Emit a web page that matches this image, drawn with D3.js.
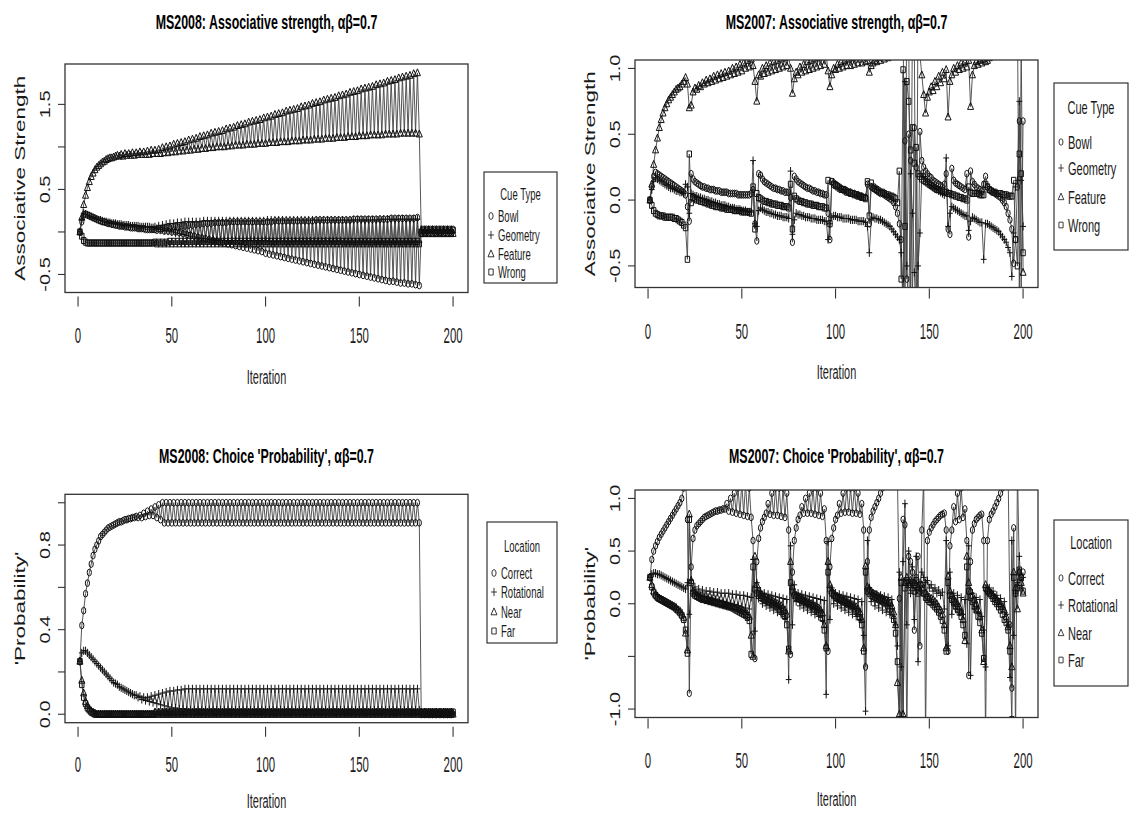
<!DOCTYPE html>
<html>
<head>
<meta charset="utf-8">
<script src="https://cdn.jsdelivr.net/npm/d3@7"></script>
<style>
  body { margin: 0; background: #fff; }
  svg { display: block; }
</style>
</head>
<body>
<script>
// ---------- data ----------
let cueNames = ['Bowl', 'Geometry', 'Feature', 'Wrong']
let locNames = ['Correct', 'Rotational', 'Near', 'Far']
let xTicks = [0, 50, 100, 150, 200]

// MS2008 associative strength: iterations 1-40, then odd/even alternation 41-182, then 183-200
let tlFeatureHead = [0.00,0.17,0.32,0.43,0.52,0.59,0.65,0.69,0.73,0.76,
  0.78,0.80,0.82,0.83,0.85,0.86,0.87,0.87,0.88,0.89,
  0.90,0.89,0.91,0.89,0.92,0.90,0.92,0.90,0.93,0.90,
  0.93,0.91,0.94,0.91,0.94,0.91,0.95,0.91,0.96,0.92]
let tlFeatureHi = [0.96,0.97,0.99,1.00,1.01,1.03,1.04,1.05,1.06,1.08,
  1.09,1.10,1.12,1.13,1.14,1.16,1.17,1.18,1.19,1.21,
  1.22,1.23,1.25,1.26,1.27,1.29,1.30,1.31,1.32,1.34,
  1.35,1.36,1.38,1.39,1.40,1.42,1.43,1.44,1.45,1.47,
  1.48,1.49,1.51,1.52,1.53,1.55,1.56,1.57,1.58,1.60,
  1.61,1.62,1.64,1.65,1.66,1.68,1.69,1.70,1.71,1.73,
  1.74,1.75,1.77,1.78,1.79,1.81,1.82,1.83,1.84,1.86,
  1.87]
let tlFeatureLo = [0.92,0.92,0.93,0.93,0.94,0.94,0.95,0.95,0.96,0.96,
  0.97,0.97,0.98,0.98,0.99,0.99,1.00,1.00,1.00,1.01,
  1.01,1.02,1.02,1.02,1.03,1.03,1.03,1.04,1.04,1.04,
  1.05,1.05,1.05,1.06,1.06,1.06,1.07,1.07,1.07,1.08,
  1.08,1.08,1.09,1.09,1.09,1.10,1.10,1.10,1.11,1.11,
  1.11,1.12,1.12,1.12,1.13,1.13,1.13,1.14,1.14,1.14,
  1.14,1.15,1.15,1.15,1.15,1.16,1.16,1.16,1.16,1.16,
  1.15]
let tlFeatureTail = [0.02,-0.02,0.02,-0.02,0.02,-0.02,0.02,-0.02,0.02,-0.02,0.02,-0.02,0.02,-0.02,0.02,-0.02,0.02,-0.02]

let tlBowlHead = [0.00,0.12,0.20,0.21,0.20,0.19,0.18,0.17,0.16,0.15,
  0.14,0.13,0.12,0.12,0.11,0.10,0.10,0.09,0.09,0.08,
  0.08,0.07,0.07,0.07,0.06,0.06,0.06,0.05,0.05,0.05,
  0.05,0.04,0.04,0.04,0.04,0.03,0.03,0.03,0.03,0.03]
let tlBowlHi = [0.03,0.04,0.04,0.05,0.05,0.06,0.06,0.07,0.07,0.08,
  0.08,0.09,0.09,0.10,0.10,0.10,0.11,0.11,0.11,0.11,
  0.12,0.12,0.12,0.12,0.12,0.12,0.12,0.12,0.12,0.12,
  0.12,0.12,0.13,0.13,0.13,0.13,0.13,0.13,0.13,0.13,
  0.13,0.13,0.13,0.14,0.14,0.14,0.14,0.14,0.14,0.14,
  0.14,0.14,0.14,0.15,0.15,0.15,0.15,0.15,0.15,0.15,
  0.15,0.15,0.15,0.16,0.16,0.16,0.16,0.16,0.16,0.16,
  0.17]
let tlBowlLo = [0.02,0.02,0.01,0.01,0.00,0.00,-0.01,-0.02,-0.03,-0.04,
  -0.05,-0.06,-0.07,-0.08,-0.09,-0.10,-0.11,-0.12,-0.13,-0.14,
  -0.15,-0.16,-0.17,-0.18,-0.19,-0.20,-0.21,-0.22,-0.23,-0.25,
  -0.26,-0.27,-0.28,-0.29,-0.30,-0.31,-0.32,-0.33,-0.34,-0.35,
  -0.36,-0.37,-0.38,-0.39,-0.40,-0.41,-0.42,-0.43,-0.44,-0.45,
  -0.46,-0.47,-0.48,-0.49,-0.50,-0.51,-0.52,-0.53,-0.54,-0.55,
  -0.56,-0.57,-0.58,-0.58,-0.59,-0.60,-0.60,-0.61,-0.61,-0.62,
  -0.63]
let tlBowlTail = [-0.01,0.03,-0.01,0.03,-0.01,0.03,-0.01,0.03,-0.01,0.03,-0.01,0.03,-0.01,0.03,-0.01,0.03,-0.01,0.03]

let tlGeometryHead = [0.00,0.15,0.22,0.21,0.20,0.19,0.18,0.17,0.16,0.15,
  0.14,0.14,0.13,0.12,0.12,0.11,0.11,0.10,0.10,0.10,
  0.09,0.09,0.09,0.08,0.08,0.08,0.08,0.07,0.07,0.07,
  0.07,0.07,0.06,0.06,0.06,0.06,0.06,0.06,0.05,0.05]
let tlGeometryHi = [0.06,0.07,0.08,0.09,0.10,0.10,0.11,0.11,0.12,0.12,
  0.12,0.12,0.12,0.13,0.13,0.13,0.13,0.13,0.13,0.13,
  0.13,0.13,0.13,0.13,0.13,0.13,0.13,0.13,0.13,0.13,
  0.14,0.14,0.14,0.14,0.14,0.14,0.14,0.14,0.14,0.14,
  0.14,0.14,0.14,0.14,0.14,0.14,0.14,0.14,0.14,0.14,
  0.14,0.14,0.14,0.14,0.14,0.14,0.14,0.14,0.14,0.14,
  0.15,0.15,0.15,0.15,0.15,0.15,0.15,0.15,0.15,0.15,
  0.15]
let tlGeometryLo = [0.04,0.03,0.02,0.01,0.00,-0.01,-0.02,-0.03,-0.04,-0.05,
  -0.06,-0.07,-0.08,-0.08,-0.09,-0.09,-0.10,-0.10,-0.10,-0.10,
  -0.10,-0.10,-0.10,-0.10,-0.10,-0.10,-0.10,-0.10,-0.10,-0.10,
  -0.11,-0.11,-0.11,-0.11,-0.11,-0.11,-0.11,-0.11,-0.11,-0.11,
  -0.11,-0.11,-0.11,-0.11,-0.11,-0.11,-0.11,-0.11,-0.11,-0.11,
  -0.12,-0.12,-0.12,-0.12,-0.12,-0.12,-0.12,-0.12,-0.12,-0.12,
  -0.12,-0.12,-0.12,-0.12,-0.12,-0.12,-0.12,-0.12,-0.12,-0.12,
  -0.12]
let tlGeometryTail = [0.03,-0.01,0.03,-0.01,0.03,-0.01,0.03,-0.01,0.03,-0.01,0.03,-0.01,0.03,-0.01,0.03,-0.01,0.03,-0.01]

let tlWrongHead = [0.00,-0.05,-0.10,-0.12,-0.13,-0.13,-0.13,-0.13,-0.13,-0.13,
  -0.13,-0.13,-0.13,-0.13,-0.13,-0.13,-0.13,-0.13,-0.13,-0.13,
  -0.13,-0.13,-0.13,-0.13,-0.13,-0.13,-0.13,-0.13,-0.13,-0.13,
  -0.13,-0.13,-0.13,-0.13,-0.13,-0.13,-0.13,-0.13,-0.13,-0.13]
let tlWrongHi = [-0.12,-0.12,-0.12,-0.12,-0.11,-0.11,-0.11,-0.11,-0.11,-0.11,
  -0.11,-0.11,-0.11,-0.11,-0.11,-0.11,-0.11,-0.11,-0.11,-0.11,
  -0.11,-0.11,-0.11,-0.11,-0.11,-0.11,-0.11,-0.11,-0.11,-0.11,
  -0.11,-0.11,-0.11,-0.11,-0.11,-0.11,-0.11,-0.11,-0.11,-0.11,
  -0.11,-0.11,-0.11,-0.11,-0.11,-0.11,-0.11,-0.11,-0.11,-0.11,
  -0.11,-0.11,-0.11,-0.11,-0.11,-0.11,-0.11,-0.11,-0.11,-0.11,
  -0.11,-0.11,-0.11,-0.11,-0.11,-0.11,-0.11,-0.11,-0.11,-0.11,
  -0.11]
let tlWrongLo = [-0.14,-0.14,-0.14,-0.14,-0.14,-0.14,-0.14,-0.14,-0.14,-0.14,
  -0.14,-0.14,-0.14,-0.14,-0.14,-0.14,-0.14,-0.14,-0.14,-0.14,
  -0.14,-0.14,-0.14,-0.14,-0.14,-0.14,-0.14,-0.14,-0.14,-0.14,
  -0.14,-0.14,-0.14,-0.14,-0.14,-0.14,-0.14,-0.14,-0.14,-0.14,
  -0.14,-0.14,-0.14,-0.14,-0.14,-0.14,-0.14,-0.14,-0.14,-0.14,
  -0.14,-0.14,-0.14,-0.14,-0.14,-0.14,-0.14,-0.14,-0.14,-0.14,
  -0.14,-0.14,-0.14,-0.14,-0.14,-0.14,-0.14,-0.14,-0.14,-0.14,
  -0.14]
let tlWrongTail = [-0.02,0.02,-0.02,0.02,-0.02,0.02,-0.02,0.02,-0.02,0.02,-0.02,0.02,-0.02,0.02,-0.02,0.02,-0.02,0.02]

// MS2007 associative strength, iterations 1-200
let trBowl = [0.00,0.10,0.18,0.21,0.20,0.19,0.18,0.17,0.16,0.15,
  0.14,0.13,0.12,0.11,0.10,0.09,0.08,0.07,0.06,0.04,
  -0.05,-0.16,0.20,0.16,0.14,0.13,0.12,0.11,0.10,0.10,
  0.09,0.09,0.08,0.08,0.08,0.07,0.07,0.07,0.06,0.06,
  0.06,0.06,0.05,0.05,0.05,0.05,0.05,0.04,0.04,0.04,
  0.04,0.04,0.04,0.04,0.05,0.08,-0.18,-0.31,0.20,0.19,
  0.16,0.14,0.13,0.12,0.11,0.10,0.09,0.09,0.08,0.08,
  0.07,0.07,0.06,0.06,0.06,0.02,-0.32,0.18,0.16,0.14,
  0.13,0.12,0.11,0.10,0.09,0.09,0.08,0.07,0.07,0.06,
  0.06,0.05,0.05,0.04,0.04,-0.10,-0.30,0.14,0.13,0.12,
  0.11,0.10,0.09,0.08,0.08,0.07,0.06,0.06,0.05,0.05,
  0.04,0.04,0.03,0.03,0.02,0.02,0.12,-0.18,0.10,0.09,
  0.08,0.07,0.06,0.05,0.05,0.04,0.03,0.02,0.01,0.00,
  -0.02,-0.05,-0.10,-0.18,-0.30,-0.90,0.45,-0.60,0.50,0.30,
  -0.80,0.55,0.25,-0.70,0.52,0.30,0.25,0.22,0.20,0.18,
  0.17,0.15,0.14,0.13,0.12,0.11,0.10,0.12,0.20,-0.22,
  -0.26,0.24,0.15,0.13,0.12,0.11,0.10,0.09,0.08,0.20,
  -0.28,0.22,0.14,0.12,0.10,0.09,0.08,0.07,0.12,0.18,
  0.10,0.08,0.07,0.06,0.05,0.04,0.03,0.02,0.00,-0.02,
  -0.05,-0.10,-0.15,-0.22,-0.48,-0.30,0.10,0.60,-0.70,0.60]
let trGeometry = [0.00,0.08,0.14,0.17,0.16,0.15,0.14,0.13,0.12,0.11,
  0.10,0.09,0.09,0.08,0.07,0.07,0.06,0.06,0.05,0.12,
  0.10,-0.10,0.05,0.04,0.03,0.03,0.02,0.02,0.01,0.01,
  0.00,0.00,-0.01,-0.01,-0.02,-0.02,-0.03,-0.03,-0.04,-0.04,
  -0.04,-0.05,-0.05,-0.06,-0.06,-0.06,-0.07,-0.07,-0.07,-0.08,
  -0.08,-0.08,-0.09,-0.09,-0.09,0.30,-0.18,-0.20,-0.08,-0.06,
  -0.07,-0.08,-0.09,-0.09,-0.10,-0.10,-0.11,-0.11,-0.12,-0.12,
  -0.12,-0.13,-0.13,-0.13,-0.14,0.22,-0.26,-0.15,-0.10,-0.11,
  -0.11,-0.12,-0.12,-0.13,-0.13,-0.13,-0.14,-0.14,-0.14,-0.15,
  -0.15,-0.15,-0.15,-0.16,-0.16,-0.30,-0.18,-0.13,-0.12,-0.12,
  -0.13,-0.13,-0.13,-0.14,-0.14,-0.14,-0.14,-0.15,-0.15,-0.15,
  -0.15,-0.16,-0.16,-0.16,-0.16,-0.17,-0.20,-0.40,-0.15,-0.13,
  -0.14,-0.14,-0.15,-0.15,-0.16,-0.17,-0.18,-0.19,-0.20,-0.22,
  -0.24,-0.26,-0.28,-0.30,-0.40,-0.70,0.90,-0.50,-0.90,0.20,
  -0.10,-0.55,-0.90,-0.50,-0.25,0.20,0.18,0.16,0.14,0.12,
  0.11,0.10,0.09,0.08,0.07,0.06,0.05,0.04,0.32,-0.20,
  -0.10,-0.05,-0.06,-0.07,-0.08,-0.09,-0.10,-0.11,-0.12,-0.12,
  -0.23,-0.16,-0.13,-0.14,-0.15,-0.16,-0.17,-0.17,-0.45,-0.18,
  -0.18,-0.19,-0.20,-0.21,-0.22,-0.23,-0.24,-0.26,-0.28,-0.30,
  -0.32,-0.36,-0.40,-0.58,-0.25,0.10,0.15,0.75,0.15,-0.20]
let trFeature = [0.00,0.12,0.27,0.38,0.47,0.55,0.61,0.66,0.70,0.73,
  0.76,0.78,0.80,0.82,0.84,0.85,0.86,0.88,0.90,0.93,
  0.88,0.70,0.72,0.82,0.85,0.84,0.87,0.86,0.89,0.88,
  0.91,0.89,0.92,0.90,0.94,0.91,0.95,0.92,0.96,0.93,
  0.97,0.94,0.98,0.95,1.00,0.96,1.01,0.97,1.03,0.98,
  1.04,1.00,1.06,1.01,1.07,1.02,0.90,0.75,0.95,0.94,
  1.00,0.96,1.02,0.97,1.04,0.98,1.05,0.99,1.06,1.00,
  1.07,1.01,1.08,1.02,1.09,1.00,0.81,0.92,0.97,0.95,
  1.01,0.97,1.03,0.98,1.05,0.99,1.06,1.00,1.07,1.01,
  1.08,1.02,1.09,1.03,1.10,0.98,0.86,0.95,1.00,0.99,
  1.03,1.00,1.05,1.01,1.06,1.02,1.07,1.02,1.08,1.03,
  1.09,1.04,1.10,1.04,1.11,1.05,1.06,0.97,1.02,1.04,
  1.06,1.05,1.08,1.06,1.09,1.07,1.10,1.08,1.11,1.09,
  1.12,1.10,1.12,1.15,1.20,1.50,-0.90,1.60,1.30,-0.80,
  1.40,1.20,-1.00,1.50,1.10,0.95,0.80,0.66,0.78,0.82,
  0.86,0.83,0.90,0.86,0.94,0.89,0.97,0.92,0.99,0.63,
  0.90,0.95,1.00,0.97,1.02,0.99,1.04,1.00,1.05,1.01,
  1.06,0.71,0.95,1.02,1.05,1.03,1.06,1.04,1.07,1.05,
  1.06,1.08,1.10,1.12,1.13,1.14,1.15,1.16,1.17,1.18,
  1.19,1.20,1.21,1.22,1.25,1.30,1.40,-0.70,1.20,-0.55]
let trWrong = [0.00,-0.04,-0.08,-0.10,-0.11,-0.12,-0.12,-0.12,-0.13,-0.13,
  -0.13,-0.13,-0.13,-0.14,-0.14,-0.15,-0.16,-0.17,-0.19,-0.21,
  -0.45,0.35,-0.02,0.02,0.01,0.00,0.00,-0.01,-0.01,-0.02,
  -0.02,-0.03,-0.03,-0.04,-0.04,-0.05,-0.05,-0.05,-0.06,-0.06,
  -0.06,-0.07,-0.07,-0.07,-0.07,-0.08,-0.08,-0.08,-0.08,-0.09,
  -0.09,-0.09,-0.09,-0.09,-0.10,0.10,-0.22,0.05,0.02,0.01,
  0.00,-0.01,-0.01,-0.02,-0.02,-0.03,-0.03,-0.03,-0.04,-0.04,
  -0.04,-0.05,-0.05,-0.05,-0.06,0.12,-0.22,0.03,0.01,0.00,
  -0.01,-0.01,-0.02,-0.02,-0.03,-0.03,-0.03,-0.04,-0.04,-0.04,
  -0.05,-0.05,-0.05,-0.06,-0.06,0.15,-0.18,0.14,0.12,0.11,
  0.10,0.09,0.08,0.08,0.07,0.06,0.06,0.05,0.05,0.04,
  0.04,0.03,0.03,0.02,0.02,0.01,0.14,-0.12,0.13,0.10,
  0.09,0.08,0.07,0.06,0.06,0.05,0.04,0.04,0.03,0.03,
  0.02,0.01,-0.02,0.22,-0.60,0.99,-0.20,0.90,0.75,0.38,
  0.55,0.28,0.40,0.20,0.18,0.16,0.15,0.14,0.13,0.12,
  0.11,0.10,0.09,0.08,0.08,0.07,0.07,0.06,0.06,0.05,
  0.05,0.04,0.04,0.03,0.03,0.02,0.02,0.01,0.01,0.00,
  0.10,0.06,0.05,0.05,0.05,0.05,0.04,0.04,0.04,0.12,
  0.10,0.08,0.07,0.06,0.06,0.05,0.05,0.05,0.04,0.04,
  0.04,0.03,0.03,0.03,0.15,-0.30,-0.50,0.35,0.20,-0.40]

// MS2008 choice probability: iterations 1-40, odd/even alternation 41-182, then 183-200
let blCorrectHead = [0.25,0.42,0.49,0.57,0.62,0.67,0.71,0.75,0.78,0.80,
  0.82,0.84,0.85,0.86,0.87,0.88,0.885,0.89,0.895,0.90,
  0.905,0.91,0.91,0.915,0.92,0.92,0.925,0.925,0.93,0.93,
  0.935,0.93,0.94,0.93,0.95,0.935,0.96,0.94,0.97,0.94]
let blCorrectHi = [0.98,0.99,1.00,1.00,1.00,1.00,1.00,1.00,1.00,1.00,
  1.00,1.00,1.00,1.00,1.00,1.00,1.00,1.00,1.00,1.00,
  1.00,1.00,1.00,1.00,1.00,1.00,1.00,1.00,1.00,1.00,
  1.00,1.00,1.00,1.00,1.00,1.00,1.00,1.00,1.00,1.00,
  1.00,1.00,1.00,1.00,1.00,1.00,1.00,1.00,1.00,1.00,
  1.00,1.00,1.00,1.00,1.00,1.00,1.00,1.00,1.00,1.00,
  1.00,1.00,1.00,1.00,1.00,1.00,1.00,1.00,1.00,1.00,
  1.00]
let blCorrectLo = [0.93,0.92,0.905,0.905,0.905,0.905,0.905,0.905,0.905,0.905,
  0.905,0.905,0.905,0.905,0.905,0.905,0.905,0.905,0.905,0.905,
  0.905,0.905,0.905,0.905,0.905,0.905,0.905,0.905,0.905,0.905,
  0.905,0.905,0.905,0.905,0.905,0.905,0.905,0.905,0.905,0.905,
  0.905,0.905,0.905,0.905,0.905,0.905,0.905,0.905,0.905,0.905,
  0.905,0.905,0.905,0.905,0.905,0.905,0.905,0.905,0.905,0.905,
  0.905,0.905,0.905,0.905,0.905,0.905,0.905,0.905,0.905,0.905,
  0.905]
let blCorrectTail = [0.01,0.00,0.01,0.00,0.01,0.00,0.01,0.00,0.01,0.00,0.01,0.00,0.01,0.00,0.01,0.00,0.01,0.00]

let blRotHead = [0.25,0.29,0.30,0.30,0.29,0.28,0.27,0.26,0.25,0.24,
  0.23,0.22,0.21,0.20,0.19,0.18,0.17,0.16,0.15,0.145,
  0.14,0.13,0.125,0.12,0.115,0.11,0.105,0.10,0.095,0.09,
  0.09,0.08,0.085,0.07,0.08,0.065,0.08,0.06,0.085,0.055]
let blRotHi = [0.09,0.095,0.10,0.105,0.11,0.11,0.115,0.115,0.12,0.12,
  0.12,0.12,0.12,0.12,0.12,0.12,0.12,0.12,0.12,0.12,
  0.12,0.12,0.12,0.12,0.12,0.12,0.12,0.12,0.12,0.12,
  0.12,0.12,0.12,0.12,0.12,0.12,0.12,0.12,0.12,0.12,
  0.12,0.12,0.12,0.12,0.12,0.12,0.12,0.12,0.12,0.12,
  0.12,0.12,0.12,0.12,0.12,0.12,0.12,0.12,0.12,0.12,
  0.12,0.12,0.12,0.12,0.12,0.12,0.12,0.12,0.12,0.12,
  0.12]
let blRotLo = [0.05,0.045,0.04,0.035,0.03,0.03,0.025,0.025,0.02,0.02,
  0.02,0.02,0.02,0.02,0.02,0.02,0.02,0.02,0.02,0.02,
  0.02,0.02,0.02,0.02,0.02,0.02,0.02,0.02,0.02,0.02,
  0.02,0.02,0.02,0.02,0.02,0.02,0.02,0.02,0.02,0.02,
  0.02,0.02,0.02,0.02,0.02,0.02,0.02,0.02,0.02,0.02,
  0.02,0.02,0.02,0.02,0.02,0.02,0.02,0.02,0.02,0.02,
  0.02,0.02,0.02,0.02,0.02,0.02,0.02,0.02,0.02,0.02,
  0.02]
let blRotTail = [0.00,0.01,0.00,0.01,0.00,0.01,0.00,0.01,0.00,0.01,0.00,0.01,0.00,0.01,0.00,0.01,0.00,0.01]

let blNearHead = [0.25,0.16,0.10,0.06,0.04,0.025,0.015,0.01,0.005,0.00,
  0.00,0.00,0.00,0.00,0.00,0.00,0.00,0.00,0.00,0.00,
  0.00,0.00,0.00,0.00,0.00,0.00,0.00,0.00,0.00,0.00,
  0.00,0.00,0.00,0.00,0.00,0.00,0.00,0.00,0.00,0.00]
let blNearHi = [0.01,0.01,0.01,0.01,0.01,0.01,0.01,0.01,0.01,0.01,
  0.01,0.01,0.01,0.01,0.01,0.01,0.01,0.01,0.01,0.01,
  0.01,0.01,0.01,0.01,0.01,0.01,0.01,0.01,0.01,0.01,
  0.01,0.01,0.01,0.01,0.01,0.01,0.01,0.01,0.01,0.01,
  0.01,0.01,0.01,0.01,0.01,0.01,0.01,0.01,0.01,0.01,
  0.01,0.01,0.01,0.01,0.01,0.01,0.01,0.01,0.01,0.01,
  0.01,0.01,0.01,0.01,0.01,0.01,0.01,0.01,0.01,0.01,
  0.01]
let blNearLo = [0.00,0.00,0.00,0.00,0.00,0.00,0.00,0.00,0.00,0.00,
  0.00,0.00,0.00,0.00,0.00,0.00,0.00,0.00,0.00,0.00,
  0.00,0.00,0.00,0.00,0.00,0.00,0.00,0.00,0.00,0.00,
  0.00,0.00,0.00,0.00,0.00,0.00,0.00,0.00,0.00,0.00,
  0.00,0.00,0.00,0.00,0.00,0.00,0.00,0.00,0.00,0.00,
  0.00,0.00,0.00,0.00,0.00,0.00,0.00,0.00,0.00,0.00,
  0.00,0.00,0.00,0.00,0.00,0.00,0.00,0.00,0.00,0.00,
  0.00]
let blNearTail = [0.01,0.00,0.01,0.00,0.01,0.00,0.01,0.00,0.01,0.00,0.01,0.00,0.01,0.00,0.01,0.00,0.01,0.00]

let blFarHead = [0.25,0.14,0.08,0.05,0.03,0.02,0.01,0.005,0.00,0.00,
  0.00,0.00,0.00,0.00,0.00,0.00,0.00,0.00,0.00,0.00,
  0.00,0.00,0.00,0.00,0.00,0.00,0.00,0.00,0.00,0.00,
  0.00,0.00,0.00,0.00,0.00,0.00,0.00,0.00,0.00,0.00]
let blFarHi = blNearLo.slice()
let blFarLo = blNearHi.slice()
let blFarTail = [0.00,0.01,0.00,0.01,0.00,0.01,0.00,0.01,0.00,0.01,0.00,0.01,0.00,0.01,0.00,0.01,0.00,0.01]

// MS2007 choice probability, iterations 1-200
let brCorrect = [0.25,0.42,0.50,0.55,0.59,0.63,0.66,0.69,0.72,0.75,
  0.78,0.81,0.84,0.87,0.90,0.93,0.96,1.00,1.10,1.20,
  0.80,-0.85,0.35,0.62,0.70,0.74,0.76,0.78,0.80,0.82,
  0.83,0.84,0.85,0.86,0.87,0.88,0.88,0.89,0.89,0.90,
  0.90,0.95,0.88,1.00,0.87,1.05,0.86,1.10,0.85,1.15,
  0.84,1.15,0.83,1.10,0.82,0.60,-0.52,0.40,0.62,0.72,
  0.78,0.82,0.86,0.95,0.85,1.05,0.84,1.10,0.84,1.10,
  0.83,1.10,0.82,1.05,0.70,-0.48,0.30,0.60,0.72,0.80,
  0.84,0.92,0.86,1.00,0.86,1.05,0.86,1.10,0.85,1.10,
  0.84,1.05,0.83,0.90,0.60,-0.45,0.35,0.62,0.72,0.80,
  0.84,0.95,0.86,1.05,0.87,1.10,0.87,1.10,0.86,1.10,
  0.86,1.05,0.85,0.95,0.70,-0.60,0.40,0.70,0.82,0.88,
  0.92,0.96,1.00,1.05,1.10,1.15,1.20,1.20,1.20,1.20,
  1.20,1.20,1.20,0.05,-1.20,0.80,0.75,-1.30,0.45,0.40,
  0.30,-0.25,0.25,0.45,-0.40,0.70,1.20,-1.30,0.60,0.68,
  0.72,0.75,0.78,0.80,0.82,0.84,0.85,0.86,0.70,-0.45,
  0.55,0.70,0.92,0.78,1.05,0.80,1.10,0.82,0.90,0.60,
  -0.68,0.40,0.70,0.76,0.80,0.82,0.84,0.85,0.60,-1.30,
  0.60,0.80,0.85,0.88,0.92,0.96,1.00,1.05,1.10,1.15,
  1.20,1.30,-0.20,-0.80,0.72,-1.30,1.30,0.30,0.25,0.30]
let brRotational = [0.25,0.28,0.29,0.29,0.28,0.28,0.27,0.26,0.25,0.24,
  0.23,0.22,0.21,0.20,0.19,0.18,0.17,0.16,0.15,0.14,
  0.20,-0.10,0.22,0.12,0.16,0.10,0.14,0.08,0.13,0.07,
  0.12,0.06,0.12,0.05,0.11,0.04,0.11,0.03,0.10,0.02,
  0.10,0.01,0.10,0.00,0.09,-0.01,0.09,-0.02,0.08,-0.03,
  0.08,-0.04,0.07,-0.05,0.06,0.42,-0.26,0.20,0.05,0.12,
  0.00,0.10,-0.02,0.09,-0.04,0.08,-0.06,0.07,-0.08,0.06,
  -0.10,0.05,-0.14,0.04,-0.72,0.55,-0.20,0.18,0.02,0.10,
  -0.02,0.09,-0.04,0.08,-0.06,0.07,-0.08,0.06,-0.10,0.05,
  -0.12,0.04,-0.16,0.03,-0.86,0.59,-0.15,0.15,0.00,0.10,
  -0.02,0.09,-0.04,0.08,-0.06,0.07,-0.08,0.06,-0.10,0.05,
  -0.12,0.04,-0.15,0.02,-0.30,-1.02,0.60,0.15,0.02,0.10,
  -0.02,0.09,-0.04,0.08,-0.06,0.07,-0.08,0.06,-0.10,0.04,
  -0.14,-0.20,-0.40,0.30,-0.60,0.40,0.95,-0.20,0.50,0.10,
  0.35,-0.15,0.45,-0.55,0.20,0.30,0.25,0.20,0.22,0.15,
  0.18,0.12,0.15,0.10,0.13,0.08,0.11,-0.05,0.60,-0.40,
  0.30,-0.10,0.10,-0.05,0.08,-0.08,0.06,-0.10,0.04,-0.38,
  0.55,-0.68,0.10,-0.05,0.06,-0.08,0.04,-0.12,-0.25,-0.60,
  0.12,0.15,0.10,0.12,0.05,0.08,0.00,0.05,-0.05,0.02,
  -0.10,-0.20,-0.70,0.60,-0.30,0.10,0.20,0.45,0.15,0.25]
let brNear = [0.25,0.18,0.12,0.09,0.07,0.05,0.04,0.03,0.02,0.01,
  0.00,-0.01,-0.02,-0.03,-0.04,-0.06,-0.08,-0.10,-0.13,-0.28,
  -0.44,0.85,0.22,0.12,0.10,0.08,0.07,0.06,0.05,0.05,
  0.04,0.04,0.03,0.03,0.02,0.02,0.01,0.01,0.00,0.00,
  -0.01,-0.01,-0.02,-0.02,-0.03,-0.03,-0.04,-0.04,-0.05,-0.06,
  -0.07,-0.08,-0.10,-0.12,-0.30,-0.50,0.45,0.18,0.12,0.10,
  0.08,0.07,0.06,0.05,0.04,0.03,0.02,0.01,0.00,-0.01,
  -0.02,-0.04,-0.06,-0.10,-0.45,0.40,0.16,0.10,0.08,0.07,
  0.06,0.05,0.04,0.03,0.02,0.01,0.00,-0.01,-0.02,-0.03,
  -0.04,-0.06,-0.09,-0.20,-0.40,0.40,0.18,0.12,0.10,0.08,
  0.07,0.06,0.05,0.04,0.03,0.02,0.01,0.00,-0.01,-0.02,
  -0.03,-0.05,-0.08,-0.15,-0.42,0.36,0.16,0.14,0.12,0.10,
  0.09,0.08,0.07,0.06,0.05,0.04,0.03,0.02,0.01,-0.02,
  -0.08,-0.20,-0.75,-1.05,0.25,-1.05,0.20,0.25,0.18,0.22,
  0.15,0.20,0.18,0.16,0.12,0.18,0.15,0.10,0.08,0.06,
  0.05,0.04,0.02,0.00,-0.03,-0.06,-0.10,-0.20,-0.42,0.26,
  0.12,0.08,0.05,0.02,0.00,-0.03,-0.08,-0.15,-0.35,0.45,
  0.20,0.12,0.08,0.04,0.00,-0.05,-0.12,-0.25,-0.55,0.18,
  0.14,0.12,0.10,0.08,0.06,0.04,0.02,0.00,-0.03,-0.06,
  -0.12,-0.22,-0.40,-0.60,0.30,0.15,-0.05,0.30,0.20,0.10]
let brFar = [0.25,0.16,0.11,0.08,0.06,0.05,0.04,0.03,0.02,0.01,
  0.00,-0.01,-0.02,-0.03,-0.05,-0.06,-0.08,-0.11,-0.15,-0.25,
  -0.47,0.80,0.20,0.10,0.08,0.07,0.06,0.05,0.04,0.04,
  0.03,0.03,0.02,0.02,0.01,0.01,0.00,0.00,-0.01,-0.01,
  -0.02,-0.02,-0.03,-0.03,-0.04,-0.05,-0.06,-0.07,-0.08,-0.09,
  -0.10,-0.11,-0.13,-0.16,-0.48,0.35,0.14,0.10,0.08,0.06,
  0.05,0.04,0.03,0.02,0.01,0.00,-0.01,-0.02,-0.03,-0.05,
  -0.07,-0.09,-0.12,-0.20,-0.43,0.20,0.12,0.08,0.06,0.05,
  0.04,0.03,0.02,0.01,0.00,-0.01,-0.02,-0.03,-0.05,-0.06,
  -0.08,-0.10,-0.14,-0.25,-0.42,0.30,0.14,0.10,0.08,0.06,
  0.05,0.04,0.03,0.02,0.01,0.00,-0.01,-0.02,-0.03,-0.05,
  -0.07,-0.09,-0.13,-0.20,-0.45,0.30,0.12,0.10,0.08,0.07,
  0.06,0.05,0.04,0.03,0.02,0.01,0.00,-0.02,-0.05,-0.08,
  -0.15,-0.28,-0.55,-1.10,0.20,-1.10,0.15,0.22,0.20,0.18,
  0.20,0.12,0.22,0.10,0.18,0.14,0.10,0.06,0.04,0.02,
  0.01,-0.01,-0.03,-0.05,-0.08,-0.12,-0.16,-0.25,-0.45,0.20,
  0.08,0.04,0.01,-0.02,-0.05,-0.08,-0.12,-0.20,-0.30,0.35,
  0.12,0.06,0.02,-0.02,-0.06,-0.12,-0.18,-0.28,-0.52,0.15,
  0.12,0.10,0.08,0.05,0.02,0.00,-0.03,-0.06,-0.10,-0.15,
  -0.18,-0.25,-0.45,-1.10,0.25,0.10,0.15,0.32,0.25,0.12]

// ---------- helpers ----------
let width = 1130
let height = 816
let font = '"Liberation Sans", Arial, Helvetica, sans-serif'

function zigzag(head, hi, lo, tail) {
  let out = head.slice()
  for (let k = 0; k < hi.length; k++) { out.push(hi[k]); out.push(lo[k]) }
  return out.concat(tail)
}

// marker shapes, drawn narrower than tall like the squeezed figure
let symbols = {
  circle: 'M0,-3.4A2.1,3.4 0 1,1 0,3.4A2.1,3.4 0 1,1 0,-3.4Z',
  plus: 'M-2.9,0H2.9M0,-4.1V4.1',
  triangle: 'M0,-4.1L3.0,2.8L-3.0,2.8Z',
  square: 'M-2.2,-3.0H2.2V3.0H-2.2Z'
}
let symOrder = ['circle', 'plus', 'triangle', 'square']

function label(g, str, x, y, o) {
  g.append('text')
    .attr('transform', 'translate(' + x + ',' + y + ') scale(' + o.sx + ',1)' + (o.rot ? ' rotate(-90)' : ''))
    .attr('text-anchor', o.anchor || 'middle')
    .attr('dominant-baseline', 'central')
    .style('font-family', font)
    .style('font-size', o.size + 'px')
    .style('font-weight', o.bold ? 'bold' : 'normal')
    .attr('fill', o.fill || '#1a1a1a')
    .text(str)
}

let panels = [
  {
    title: 'MS2008: Associative strength, \u03b1\u03b2=0.7', ylab: 'Associative Strength',
    left: 65, top: 64, right: 468, bottom: 292.5, ydom: [-0.712, 1.975],
    yticks: [-0.5, 0, 0.5, 1, 1.5], ylabels: [-0.5, 0.5, 1.5],
    titleY: 22, tickLabY: 335, xlabY: 377, tickGap: 4,
    legTitle: 'Cue Type', names: cueNames,
    leg: { x: 484, y: 172, w: 73, h: 111, titleY: 194, rows: [216, 235, 254, 272], size: 17, sx: 0.56, k: 1 },
    series: [
      zigzag(tlBowlHead, tlBowlHi, tlBowlLo, tlBowlTail),
      zigzag(tlGeometryHead, tlGeometryHi, tlGeometryLo, tlGeometryTail),
      zigzag(tlFeatureHead, tlFeatureHi, tlFeatureLo, tlFeatureTail),
      zigzag(tlWrongHead, tlWrongHi, tlWrongLo, tlWrongTail)
    ]
  },
  {
    title: 'MS2007: Associative strength, \u03b1\u03b2=0.7', ylab: 'Associative Strength',
    left: 635, top: 60, right: 1038, bottom: 287.5, ydom: [-0.664, 1.064],
    yticks: [-0.5, 0, 0.5, 1], ylabels: [-0.5, 0, 0.5, 1],
    titleY: 22, tickLabY: 331, xlabY: 372, tickGap: 1,
    legTitle: 'Cue Type', names: cueNames,
    leg: { x: 1054, y: 83, w: 74, h: 167, titleY: 107, rows: [142, 168, 197, 225], size: 19, sx: 0.58, k: 0.95 },
    series: [trBowl, trGeometry, trFeature, trWrong]
  },
  {
    title: 'MS2008: Choice \'Probability\', \u03b1\u03b2=0.7', ylab: '\'Probability\'',
    left: 65, top: 494.3, right: 468, bottom: 722.7, ydom: [-0.04, 1.04],
    yticks: [0, 0.2, 0.4, 0.6, 0.8, 1], ylabels: [0, 0.4, 0.8],
    titleY: 456, tickLabY: 764, xlabY: 801, tickGap: 4,
    legTitle: 'Location', names: locNames,
    leg: { x: 487, y: 522, w: 70, h: 121, titleY: 546, rows: [573, 592, 612, 631], size: 17, sx: 0.56, k: 1 },
    series: [
      zigzag(blCorrectHead, blCorrectHi, blCorrectLo, blCorrectTail),
      zigzag(blRotHead, blRotHi, blRotLo, blRotTail),
      zigzag(blNearHead, blNearHi, blNearLo, blNearTail),
      zigzag(blFarHead, blFarHi, blFarLo, blFarTail)
    ]
  },
  {
    title: 'MS2007: Choice \'Probability\', \u03b1\u03b2=0.7', ylab: '\'Probability\'',
    left: 635, top: 490, right: 1038, bottom: 717.5, ydom: [-1.08, 1.08],
    yticks: [-1, -0.5, 0, 0.5, 1], ylabels: [-1, 0, 0.5, 1],
    titleY: 456, tickLabY: 760, xlabY: 799, tickGap: 1,
    legTitle: 'Location', names: locNames,
    leg: { x: 1054, y: 520, w: 74, h: 166, titleY: 542, rows: [578, 605, 633, 660], size: 19, sx: 0.58, k: 0.95 },
    series: [brCorrect, brRotational, brNear, brFar]
  }
]

let svg = d3.select('body').append('svg')
  .attr('width', width)
  .attr('height', height)

svg.append('rect').attr('width', width).attr('height', height).attr('fill', '#fff')

panels.forEach(function (p, pi) {
  let x = d3.scaleLinear().domain([-6.96, 207.96]).range([p.left, p.right])
  let y = d3.scaleLinear().domain(p.ydom).range([p.bottom, p.top])
  let g = svg.append('g').attr('class', 'panel')

  let clipId = 'clip' + pi
  g.append('clipPath').attr('id', clipId)
    .append('rect')
    .attr('x', p.left).attr('y', p.top)
    .attr('width', p.right - p.left).attr('height', p.bottom - p.top)

  let plot = g.append('g').attr('clip-path', 'url(#' + clipId + ')')
  let line = d3.line()
    .x(function (d, i) { return x(i + 1) })
    .y(function (d) { return y(d) })

  p.series.forEach(function (vals) {
    plot.append('path')
      .datum(vals)
      .attr('d', line)
      .attr('fill', 'none')
      .attr('stroke', '#444')
      .attr('stroke-width', 0.9)
  })
  p.series.forEach(function (vals, si) {
    plot.selectAll('.m' + si)
      .data(vals)
      .enter().append('path')
      .attr('class', 'm' + si)
      .attr('d', symbols[symOrder[si]])
      .attr('transform', function (d, i) { return 'translate(' + x(i + 1) + ',' + y(d) + ')' })
      .attr('fill', 'none')
      .attr('stroke', '#111')
      .attr('stroke-width', 1)
  })

  // box
  g.append('rect')
    .attr('x', p.left).attr('y', p.top)
    .attr('width', p.right - p.left).attr('height', p.bottom - p.top)
    .attr('fill', 'none').attr('stroke', '#333').attr('stroke-width', 1.3)

  // x axis
  xTicks.forEach(function (t) {
    g.append('line')
      .attr('x1', x(t)).attr('x2', x(t))
      .attr('y1', p.bottom + p.tickGap).attr('y2', p.bottom + p.tickGap + 10)
      .attr('stroke', '#333').attr('stroke-width', 1.1)
    label(g, String(t), x(t), p.tickLabY, { size: 22, sx: 0.52 })
  })
  label(g, 'Iteration', (p.left + p.right) / 2, p.xlabY, { size: 21, sx: 0.52 })

  // y axis
  p.yticks.forEach(function (t) {
    g.append('line')
      .attr('x1', p.left - 7).attr('x2', p.left)
      .attr('y1', y(t)).attr('y2', y(t))
      .attr('stroke', '#333').attr('stroke-width', 1.1)
  })
  p.ylabels.forEach(function (t) {
    label(g, t.toFixed(1), p.left - 20, y(t), { size: 20, sx: 0.7, rot: true })
  })
  label(g, p.ylab, p.left - 45, (p.top + p.bottom) / 2, { size: 22.5, sx: 0.65, rot: true })

  // title
  label(g, p.title, (p.left + p.right) / 2, p.titleY, { size: 20, sx: 0.62, bold: true, fill: '#000' })

  // legend
  let L = p.leg
  g.append('rect')
    .attr('x', L.x).attr('y', L.y).attr('width', L.w).attr('height', L.h)
    .attr('fill', '#fff').attr('stroke', '#222').attr('stroke-width', 1.1)
  label(g, p.legTitle, L.x + L.w / 2, L.titleY, { size: L.size, sx: L.sx })
  p.names.forEach(function (n, k) {
    g.append('path')
      .attr('d', symbols[symOrder[k]])
      .attr('transform', 'translate(' + (L.x + 7) + ',' + L.rows[k] + ') scale(' + L.k + ')')
      .attr('fill', 'none').attr('stroke', '#1e1e1e').attr('stroke-width', 0.9)
    label(g, n, L.x + 14, L.rows[k], { size: L.size, sx: L.sx, anchor: 'start' })
  })
})
</script>
</body>
</html>
